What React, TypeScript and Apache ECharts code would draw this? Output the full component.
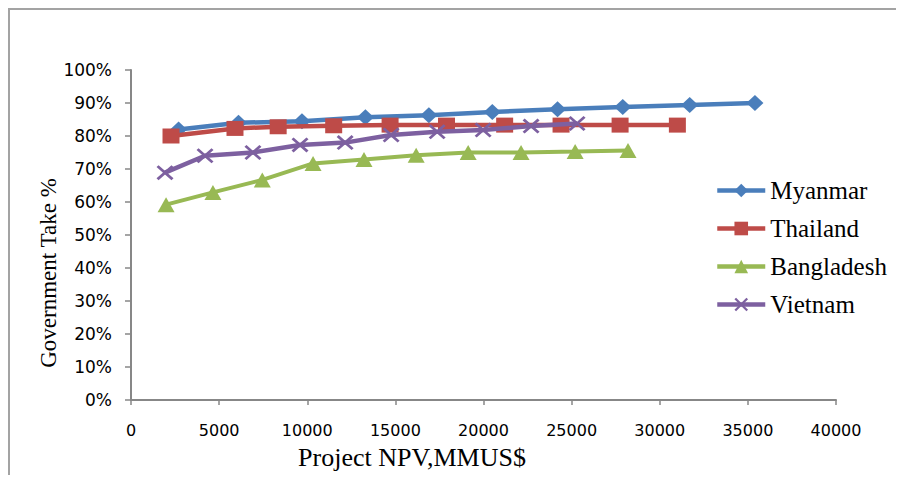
import React, { useEffect, useRef } from "react";
import * as echarts from "echarts";

const seriesNames = ["Myanmar", "Thailand", "Bangladesh", "Vietnam"];

const myanmarX = [2700, 6100, 9700, 13300, 16900, 20500, 24200, 27900, 31700, 35400];
const myanmarY = [0.82, 0.84, 0.845, 0.857, 0.863, 0.873, 0.881, 0.888, 0.894, 0.9];

const thailandX = [2270, 5900, 8350, 11500, 14700, 17900, 21200, 24400, 27750, 31000];
const thailandY = [0.8, 0.823, 0.828, 0.831, 0.833, 0.833, 0.833, 0.833, 0.833, 0.833];

const bangladeshX = [1990, 4650, 7450, 10330, 13220, 16180, 19130, 22130, 25200, 28200];
const bangladeshY = [0.592, 0.629, 0.667, 0.717, 0.729, 0.742, 0.75, 0.75, 0.753, 0.756];

const vietnamX = [1930, 4200, 6920, 9590, 12150, 14760, 17370, 19980, 22700, 25310];
const vietnamY = [0.689, 0.74, 0.75, 0.773, 0.78, 0.803, 0.813, 0.818, 0.83, 0.838];

const xTicks = [0, 5000, 10000, 15000, 20000, 25000, 30000, 35000, 40000];
const yTicks = [0, 0.1, 0.2, 0.3, 0.4, 0.5, 0.6, 0.7, 0.8, 0.9, 1.0];

const xTitle = "Project NPV,MMUS$";
const yTitle = "Government Take %";

const colors = ["#4A7EBB", "#BE4B48", "#98B954", "#7D60A0"];

const crossPath =
  "path://M0,1.2L1.2,0L10,8.8L8.8,10Z M8.8,0L10,1.2L1.2,10L0,8.8Z";

function pairs(xs: number[], ys: number[]) {
  return xs.map((x, i) => [x, ys[i]]);
}

export default function App() {
  const ref = useRef<HTMLDivElement>(null);
  useEffect(() => {
    if (!ref.current) return;
    const chart = echarts.init(ref.current, null, { renderer: "svg" });
    const axisLine = { lineStyle: { color: "#878787", width: 2 } };
    const datasets = [
      { x: myanmarX, y: myanmarY, symbol: "diamond", size: [17, 16], width: 4.5 },
      { x: thailandX, y: thailandY, symbol: "rect", size: [17, 15], width: 4.5 },
      { x: bangladeshX, y: bangladeshY, symbol: "triangle", size: [17, 15], width: 4 },
      { x: vietnamX, y: vietnamY, symbol: crossPath, size: [17, 15], width: 4.5 },
    ];
    chart.setOption({
      animation: false,
      backgroundColor: "#ffffff",
      color: colors,
      grid: { left: 131, right: 68, top: 70, bottom: 83, containLabel: false },
      xAxis: {
        type: "value",
        min: xTicks[0],
        max: xTicks[xTicks.length - 1],
        interval: xTicks[1] - xTicks[0],
        axisLine: { show: true, ...axisLine },
        axisTick: { show: true, length: 5, lineStyle: { color: "#878787", width: 1.5 } },
        splitLine: { show: false },
        axisLabel: {
          margin: 22,
          fontFamily: "DejaVu Sans",
          fontSize: 16,
          color: "#000",
          formatter: (v: number) => String(v),
        },
      },
      yAxis: {
        type: "value",
        min: yTicks[0],
        max: yTicks[yTicks.length - 1],
        interval: 0.1,
        axisLine: { show: true, ...axisLine },
        axisTick: { show: true, length: 6, lineStyle: { color: "#878787", width: 1.5 } },
        splitLine: { show: false },
        axisLabel: {
          margin: 19,
          fontFamily: "DejaVu Sans",
          fontSize: 17,
          color: "#000",
          formatter: (v: number) => Math.round(v * 100) + "%",
        },
      },
      legend: {
        orient: "vertical",
        left: 710,
        top: 173,
        itemWidth: 48,
        itemHeight: 17,
        itemGap: 13,
        data: seriesNames,
        lineStyle: { width: 4.5 },
        textStyle: {
          fontFamily: "Liberation Serif",
          fontSize: 25,
          lineHeight: 22,
          color: "#000",
        },
      },
      graphic: [
        {
          type: "rect",
          shape: { x: 8, y: 8, width: 896, height: 2 },
          style: { fill: "#a3a3a3" },
          z: 100,
        },
        {
          type: "rect",
          shape: { x: 8, y: 8, width: 2, height: 475 },
          style: { fill: "#a3a3a3" },
          z: 100,
        },
        {
          type: "text",
          x: 48,
          y: 273,
          rotation: Math.PI / 2,
          style: {
            text: yTitle,
            fontFamily: "Liberation Serif",
            fontSize: 23,
            fill: "#000",
            align: "center",
            verticalAlign: "middle",
          },
        },
        {
          type: "text",
          x: 412,
          y: 457,
          style: {
            text: xTitle,
            fontFamily: "Liberation Serif",
            fontSize: 26,
            fill: "#000",
            align: "center",
            verticalAlign: "middle",
          },
        },
      ],
      series: datasets.map((d, i) => ({
        name: seriesNames[i],
        type: "line",
        data: pairs(d.x, d.y),
        symbol: d.symbol,
        symbolSize: d.size,
        showSymbol: true,
        lineStyle: { width: d.width, color: colors[i] },
        itemStyle: { color: colors[i], borderWidth: 0 },
        z: 2 + i,
      })),
    });
    return () => chart.dispose();
  }, []);
  return (
    <div style={{ position: "relative", width: 904, height: 483, margin: -8 }}>
      <div ref={ref} style={{ position: "absolute", left: 0, top: 0, width: 904, height: 483 }} />
    </div>
  );
}
